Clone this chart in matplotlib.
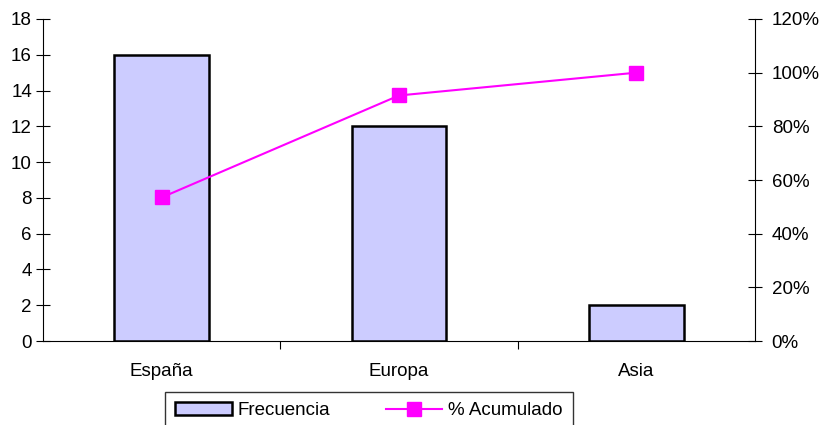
import matplotlib.pyplot as plt
import matplotlib.ticker as mticker

plt.rcParams['font.family'] = ['Liberation Sans', 'DejaVu Sans']
plt.rcParams['font.size'] = 13.5

# Frequency per region and cumulative percentage
regiones = ['España', 'Europa', 'Asia']
frecuencia = [16, 12, 2]
acumulado = [53.5, 91.5, 100]

fig = plt.figure(figsize=(8.22, 4.25), dpi=100)
ax = fig.add_axes([0.0523, 0.1976, 0.8662, 0.7577])

x = range(len(regiones))
bars = ax.bar(x, frecuencia, width=0.4, color='#ccccff', edgecolor='black',
              linewidth=1.8, label='Frecuencia', zorder=2)
ax.set_xlim(-0.5, 2.5)
ax.set_ylim(0, 18)
ax.set_yticks(range(0, 19, 2))
ax.set_xticks([0.5, 1.5])
ax.set_xticklabels([])
ax.set_xticks(list(x), minor=True)
ax.set_xticklabels(regiones, minor=True)
ax.tick_params(axis='x', which='minor', length=0, pad=16)
ax.tick_params(axis='x', which='major', direction='out', length=6)
ax.tick_params(axis='y', direction='inout', length=10, pad=3)
ax.spines['top'].set_visible(False)
ax.spines['right'].set_visible(False)

ax2 = ax.twinx()
ax2.set_position(ax.get_position())
line, = ax2.plot(x, acumulado, color='#ff00ff', marker='s', markersize=10,
                 linewidth=1.5, label='% Acumulado', zorder=3)
ax2.set_ylim(0, 120)
ax2.set_yticks(range(0, 121, 20))
ax2.yaxis.set_major_formatter(mticker.FuncFormatter(lambda v, p: f'{v:.0f}%'))
ax2.tick_params(axis='y', direction='inout', length=10, pad=7)
ax2.spines['top'].set_visible(False)
ax2.spines['left'].set_visible(False)
ax2.spines['bottom'].set_visible(False)

leg = fig.legend([bars, line], ['Frecuencia', '% Acumulado'], ncol=2,
                 loc='upper left', bbox_to_anchor=(165 / 822, 1 - 392 / 425),
                 borderaxespad=0, frameon=True, fancybox=False,
                 edgecolor='black', handlelength=3.0, handletextpad=0.3,
                 columnspacing=3.0, borderpad=0.55, fontsize=13.5)
leg.get_frame().set_linewidth(1.0)

fig.savefig('out.png', dpi=100)
